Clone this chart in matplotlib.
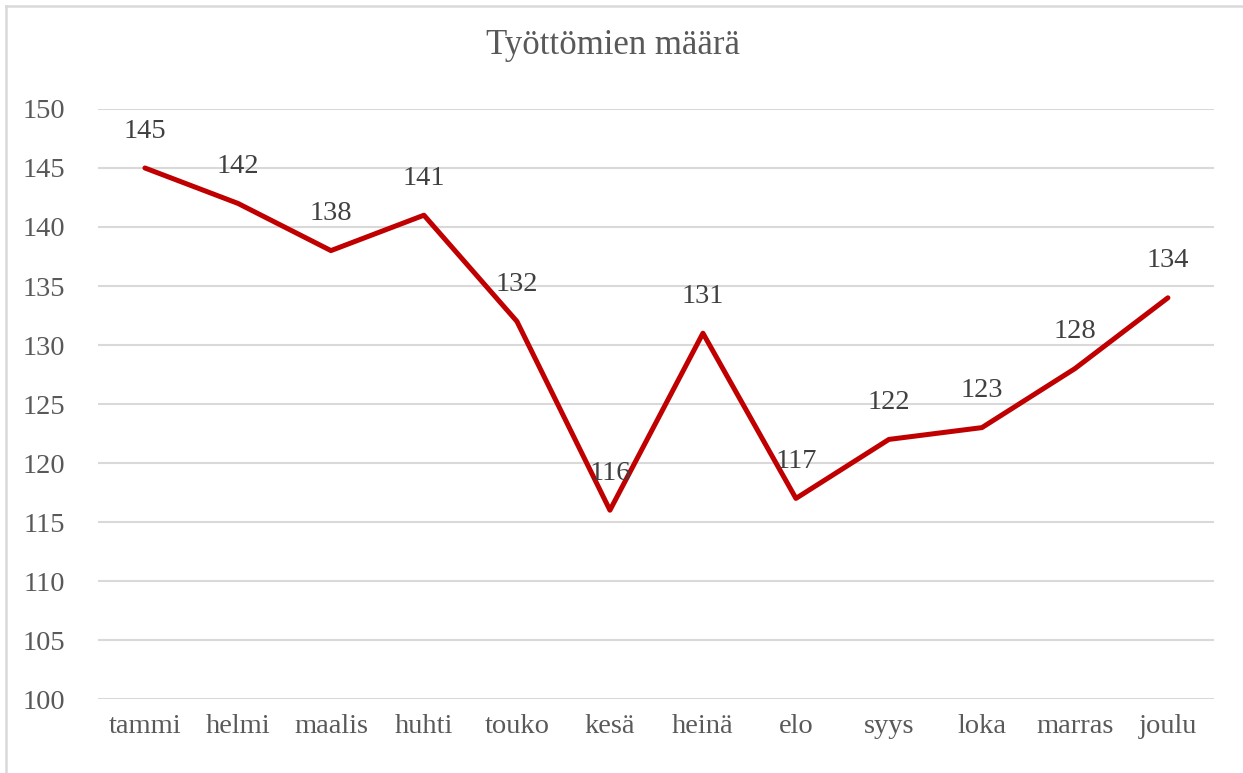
import matplotlib
matplotlib.use('Agg')
import matplotlib.pyplot as plt
from matplotlib.lines import Line2D

# data
kuukaudet = ['tammi', 'helmi', 'maalis', 'huhti', 'touko', 'kesä',
             'heinä', 'elo', 'syys', 'loka', 'marras', 'joulu']
tyottomat = [145, 142, 138, 141, 132, 116, 131, 117, 122, 123, 128, 134]
yticks = [100, 105, 110, 115, 120, 125, 130, 135, 140, 145, 150]

plt.rcParams['font.family'] = ['Liberation Serif', 'DejaVu Serif']
txt = '#595959'

fig = plt.figure(figsize=(12.43, 7.73), dpi=100)
ax = fig.add_axes([0.0792, 0.0957, 0.8978, 0.7633])

x = list(range(len(kuukaudet)))
ax.plot(x, tyottomat, color='#C00000', lw=3.6, solid_capstyle='round', zorder=3)

for xi, v in zip(x, tyottomat):
    ax.annotate(str(v), (xi, v), xytext=(0, 26.5), textcoords='offset points',
                ha='center', va='center', fontsize=20.5, color='#404040', zorder=4)

ax.set_xlim(-0.5, len(kuukaudet) - 0.5)
ax.set_ylim(100, 150)
ax.set_yticks(yticks)
ax.set_xticks(x)
ax.set_xticklabels(kuukaudet)
ax.tick_params(axis='both', length=0, labelsize=20.5, labelcolor=txt)
ax.tick_params(axis='y', pad=24)
ax.tick_params(axis='x', pad=11)
ax.grid(axis='y', color='#D9D9D9', lw=1.5)
ax.set_axisbelow(True)
for s in ax.spines.values():
    s.set_visible(False)

fig.text(0.493, 0.941, 'Työttömien määrä', ha='center', va='center',
         fontsize=25, color=txt)

# chart border (left and top only visible)
bx, by = 5.5 / 1243, 1 - 5.5 / 773
fig.lines.append(Line2D([bx, bx], [0, by], transform=fig.transFigure,
                        color='#D9D9D9', lw=1.8))
fig.lines.append(Line2D([bx, 1], [by, by], transform=fig.transFigure,
                        color='#D9D9D9', lw=1.8))

fig.savefig('out.png', dpi=100)
